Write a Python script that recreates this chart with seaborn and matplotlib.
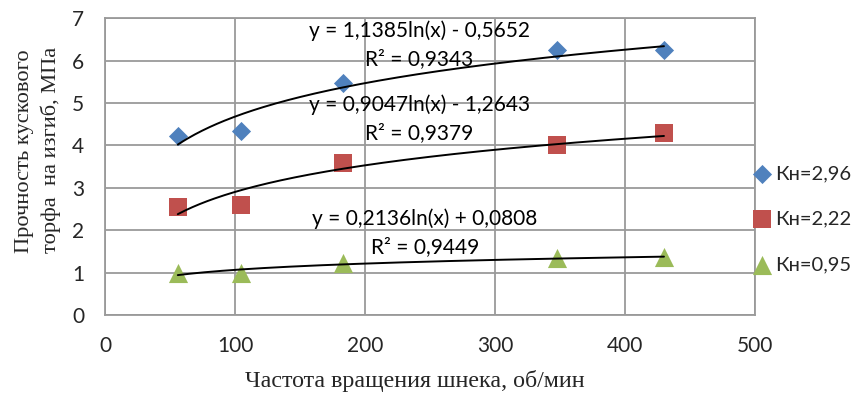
import numpy as np
import pandas as pd
import matplotlib
matplotlib.use("Agg")
import matplotlib.pyplot as plt
import seaborn as sns

# Screw speed, rpm
speed = [56, 105, 183, 348, 430]

# Bending strength of lump peat, MPa, for three values of Kн
k296 = [4.23, 4.33, 5.48, 6.24, 6.25]
k222 = [2.55, 2.60, 3.58, 4.00, 4.28]
k095 = [0.98, 1.00, 1.23, 1.35, 1.37]

series_names = ["Кн=2,96", "Кн=2,22", "Кн=0,95"]

# Logarithmic trend coefficients y = a*ln(x) + b and R²
trend_a = [1.1385, 0.9047, 0.2136]
trend_b = [-0.5652, -1.2643, 0.0808]
trend_r2 = [0.9343, 0.9379, 0.9449]
trend_labels = [
    "y = 1,1385ln(x) - 0,5652\nR² = 0,9343",
    "y = 0,9047ln(x) - 1,2643\nR² = 0,9379",
    "y = 0,2136ln(x) + 0,0808\nR² = 0,9449",
]
label_xy = [(242, 6.38), (242, 4.63), (246, 1.95)]

x_ticks = [0, 100, 200, 300, 400, 500]
y_ticks = [0, 1, 2, 3, 4, 5, 6, 7]

colors = ["#4F81BD", "#C0504D", "#9BBB59"]
markers = ["D", "s", "^"]
sizes = [95, 170, 190]

sns.set_theme(style="white")
plt.rcParams["font.family"] = ["Lato", "DejaVu Sans"]

fig = plt.figure(figsize=(8.55, 3.94), dpi=100)
ax = fig.add_axes([0.1228, 0.2005, 0.7602, 0.7535])

grid_col = "#9A9A9A"

points = pd.DataFrame({
    "speed": speed * 3,
    "value": k296 + k222 + k095,
    "series": sum([[n] * len(speed) for n in series_names], []),
})

for name, col, mk, sz in zip(series_names, colors, markers, sizes):
    sub = points[points["series"] == name]
    sns.scatterplot(data=sub, x="speed", y="value", ax=ax, color=col,
                    marker=mk, s=sz, linewidth=0, label=name, zorder=4)

# trend curves over the measured range
xs = np.linspace(min(speed), max(speed), 200)
for a, b in zip(trend_a, trend_b):
    sns.lineplot(x=xs, y=a * np.log(xs) + b, ax=ax, color="black",
                 linewidth=1.4, zorder=5, legend=False)

for text, (tx, ty) in zip(trend_labels, label_xy):
    ax.text(tx, ty, text, ha="center", va="center", fontsize=15,
            linespacing=1.5, color="black", zorder=6)

ax.set_xlim(0, 500)
ax.set_ylim(0, 7)
ax.set_xticks(x_ticks)
ax.set_yticks(y_ticks)
ax.grid(True, color=grid_col, linewidth=1.3)
ax.set_axisbelow(True)
for sp in ax.spines.values():
    sp.set_color(grid_col)
    sp.set_linewidth(1.3)
ax.tick_params(axis="both", which="both", direction="out", length=6,
               width=1.3, color=grid_col, labelsize=15, pad=9)
ax.set_xlabel("")
ax.set_ylabel("")

serif = ["Liberation Serif", "DejaVu Serif"]
fig.text(415 / 855, 1 - 381 / 394, "Частота вращения шнека, об/мин",
         fontsize=17.3, family=serif, ha="center", va="center")
fig.text(38 / 855, 1 - 150 / 394, "Прочность кускового\nторфа  на изгиб, МПа",
         fontsize=16.2, family=serif, ha="center", va="center",
         rotation=90, linespacing=1.45, multialignment="left")

leg = ax.legend(loc="center left", bbox_to_anchor=(0.98, 0.323),
                frameon=False, fontsize=14.5, handletextpad=0.05,
                labelspacing=1.4, borderaxespad=0, handlelength=1.2)

fig.savefig("out.png", dpi=100)
